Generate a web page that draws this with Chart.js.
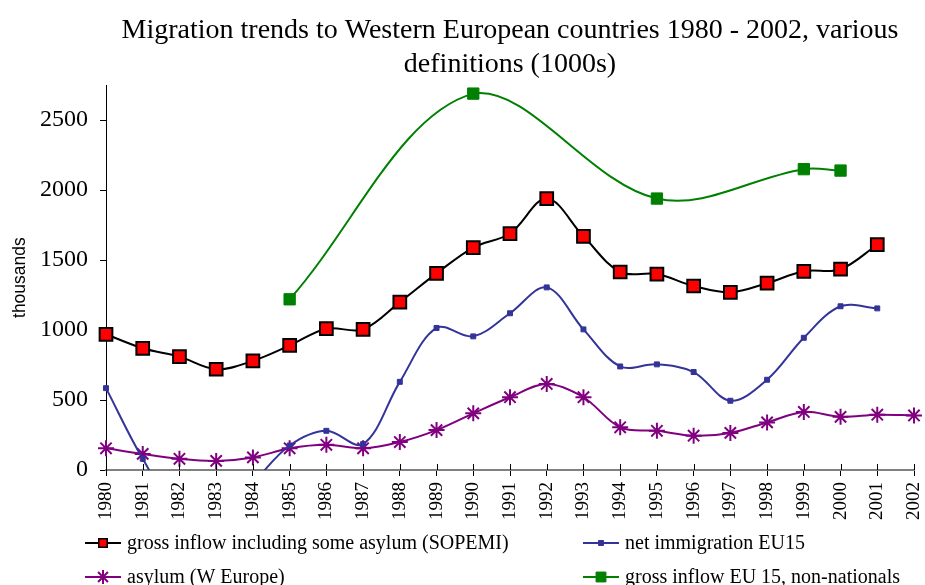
<!DOCTYPE html>
<html>
<head>
<meta charset="utf-8">
<script src="https://cdn.jsdelivr.net/npm/chart.js@4/dist/chart.umd.min.js"></script>
<style>
  html, body { margin: 0; padding: 0; background: #fff; }
</style>
</head>
<body>
<canvas id="myChart" width="925" height="585"></canvas>
<script>
const years = ['1980', '1981', '1982', '1983', '1984', '1985', '1986', '1987', '1988', '1989', '1990',
  '1991', '1992', '1993', '1994', '1995', '1996', '1997', '1998', '1999', '2000', '2001', '2002'];

// thousands
const sopemi = [970, 870, 810, 720, 780, 890, 1010, 1005, 1200, 1405, 1590,
  1690, 1940, 1670, 1415, 1400, 1315, 1270, 1335, 1420, 1435, 1610, null];
const netImmigration = [585, 80, -300, -320, -90, 175, 280, 185, 630, 1015, 955,
  1120, 1305, 1005, 740, 755, 700, 495, 645, 945, 1170, 1155, null];
const asylum = [155, 115, 80, 65, 90, 155, 180, 155, 200, 285, 405,
  520, 615, 520, 305, 280, 245, 265, 340, 415, 380, 395, 390];
const grossEU15 = [null, null, null, null, null, 1220, null, null, null, null, 2690,
  null, null, null, null, 1940, null, null, null, 2150, 2140, null, null];

const yTicks = [0, 500, 1000, 1500, 2000, 2500];

const serif = "'Liberation Serif', 'Times New Roman', serif";
const sans = "'Liberation Sans', Arial, sans-serif";
const clipBox = { left: 20, right: 20, top: 20, bottom: 0 };

// legend in two fixed columns under the axis
const legendSpots = [
  { x: 85, y: 543 },
  { x: 583, y: 543 },
  { x: 85, y: 577 },
  { x: 583, y: 577 }
];

const gridLegend = {
  id: 'gridLegend',
  afterDraw(chart) {
    const ctx = chart.ctx;

    // x tick marks cross the axis, draw the upper half too
    const xs = chart.scales.x;
    ctx.save();
    ctx.strokeStyle = '#000';
    ctx.lineWidth = 1;
    xs.ticks.forEach((t, i) => {
      const px = Math.round(xs.getPixelForTick(i)) + 0.5;
      ctx.beginPath();
      ctx.moveTo(px, xs.top - 6);
      ctx.lineTo(px, xs.top);
      ctx.stroke();
    });
    ctx.restore();

    chart.data.datasets.forEach((ds, i) => {
      const spot = legendSpots[i];
      ctx.save();
      ctx.strokeStyle = ds.borderColor;
      ctx.lineWidth = 2;
      ctx.beginPath();
      ctx.moveTo(spot.x, spot.y);
      ctx.lineTo(spot.x + 36, spot.y);
      ctx.stroke();
      ctx.fillStyle = ds.pointBackgroundColor;
      ctx.strokeStyle = ds.pointBorderColor;
      ctx.lineWidth = ds.legendBorder;
      Chart.helpers.drawPoint(ctx, {
        pointStyle: ds.pointStyle,
        radius: ds.legendRadius,
        borderWidth: ds.legendBorder,
        rotation: 0
      }, spot.x + 18, spot.y);
      ctx.fillStyle = '#000';
      ctx.font = '20px ' + serif;
      ctx.textBaseline = 'middle';
      ctx.textAlign = 'left';
      ctx.fillText(ds.label, spot.x + 42, spot.y + 1);
      ctx.restore();
    });
  }
};

const ctx = document.getElementById('myChart').getContext('2d');

new Chart(ctx, {
  type: 'line',
  data: {
    labels: years,
    datasets: [{
      label: 'gross inflow including some asylum (SOPEMI)',
      data: sopemi,
      borderColor: '#000000',
      borderWidth: 2,
      pointStyle: 'rect',
      pointRadius: 9,
      pointBackgroundColor: '#ff0000',
      pointBorderColor: '#000000',
      pointBorderWidth: 2,
      legendRadius: 6,
      legendBorder: 1.5,
      tension: 0.35,
      clip: clipBox
    }, {
      label: 'net immigration EU15',
      data: netImmigration,
      borderColor: '#333399',
      borderWidth: 2,
      pointStyle: 'rect',
      pointRadius: 3.5,
      pointBackgroundColor: '#333399',
      pointBorderColor: '#333399',
      pointBorderWidth: 1,
      legendRadius: 3.5,
      legendBorder: 1,
      tension: 0.35,
      clip: clipBox
    }, {
      label: 'asylum (W Europe)',
      data: asylum,
      borderColor: '#800080',
      borderWidth: 2,
      pointStyle: 'star',
      pointRadius: 8,
      pointBackgroundColor: '#800080',
      pointBorderColor: '#800080',
      pointBorderWidth: 2,
      legendRadius: 7,
      legendBorder: 2,
      tension: 0.35,
      clip: clipBox
    }, {
      label: 'gross inflow EU 15, non-nationals',
      data: grossEU15,
      borderColor: '#008000',
      borderWidth: 2,
      pointStyle: 'rect',
      pointRadius: 8,
      pointBackgroundColor: '#008000',
      pointBorderColor: '#008000',
      pointBorderWidth: 1,
      legendRadius: 7,
      legendBorder: 1,
      spanGaps: true,
      tension: 0.35,
      clip: clipBox
    }]
  },
  options: {
    responsive: false,
    animation: false,
    layout: { padding: { left: 0, right: 9, top: 0, bottom: 60 } },
    plugins: {
      legend: { display: false },
      tooltip: { enabled: false },
      title: {
        display: true,
        fullSize: false,
        text: ['Migration trends to Western European countries 1980 - 2002, various', 'definitions (1000s)'],
        color: '#000',
        font: { family: serif, size: 28, weight: 'normal', lineHeight: 1.2 },
        padding: { top: 14, bottom: 4 }
      }
    },
    scales: {
      x: {
        offset: false,
        border: { color: '#808080', width: 2 },
        grid: { drawOnChartArea: false, drawTicks: true, tickLength: 6, color: '#000' },
        ticks: {
          color: '#000',
          font: { family: serif, size: 19, lineHeight: 1 },
          maxRotation: 90,
          minRotation: 90,
          autoSkip: false,
          padding: 6
        },
        afterFit(scale) {
          scale.height = 55;
          scale.paddingLeft = 0;
          scale.paddingRight = 0;
        }
      },
      y: {
        min: 0,
        max: 2750,
        border: { color: '#000', width: 1 },
        grid: { drawOnChartArea: false, drawTicks: true, tickLength: 6, color: '#000' },
        ticks: {
          stepSize: 500,
          includeBounds: false,
          color: '#000',
          font: { family: serif, size: 24 },
          padding: 12,
          callback: (v) => String(v)
        },
        afterBuildTicks(scale) { scale.ticks = yTicks.map((v) => ({ value: v })); },
        title: {
          display: true,
          text: 'thousands',
          color: '#000',
          font: { family: sans, size: 17.5 },
          padding: { top: 10, bottom: 0 }
        },
        afterFit(scale) { scale.width = 106; }
      }
    }
  },
  plugins: [gridLegend]
});
</script>
</body>
</html>
